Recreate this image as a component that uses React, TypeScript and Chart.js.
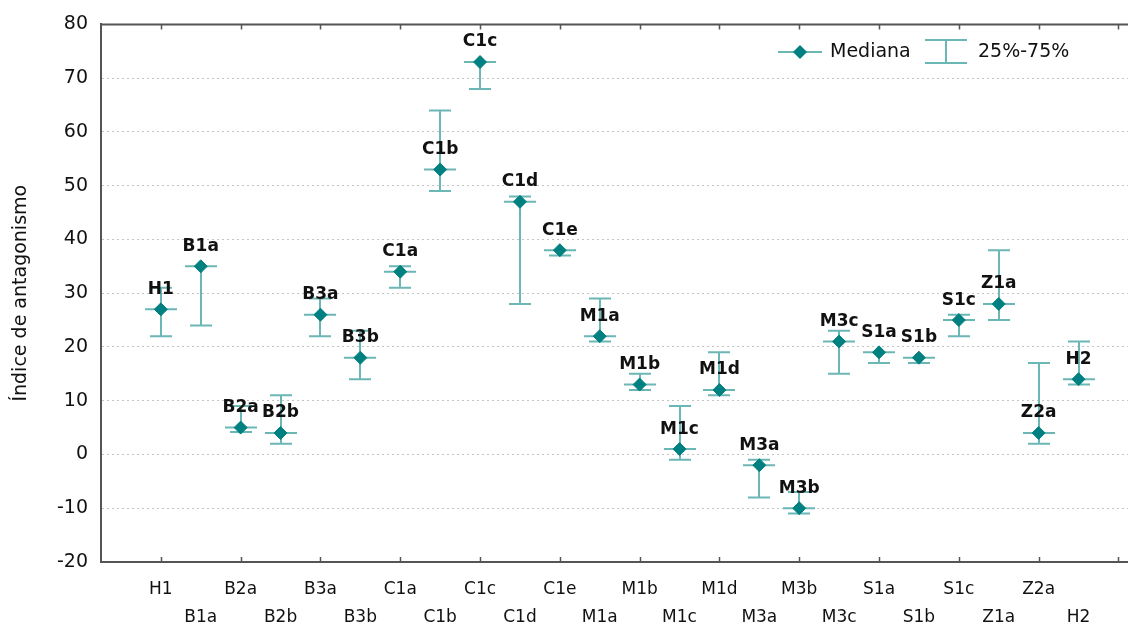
import React, { useEffect, useRef } from 'react';
import { Chart, registerables } from 'chart.js';

Chart.register(...registerables);

// Sample groups, in plotting order
const groups = [
  'H1', 'B1a', 'B2a', 'B2b', 'B3a', 'B3b', 'C1a', 'C1b', 'C1c', 'C1d', 'C1e', 'M1a',
  'M1b', 'M1c', 'M1d', 'M3a', 'M3b', 'M3c', 'S1a', 'S1b', 'S1c', 'Z1a', 'Z2a', 'H2',
];
// Median antagonism index per group
const medians = [27, 35, 5, 4, 26, 18, 34, 53, 73, 47, 38, 22, 13, 1, 12, -2, -10, 21, 19, 18, 25, 28, 4, 14];
// 25th percentile
const q1 = [22, 24, 4.2, 2, 22, 14, 31, 49, 68, 28, 37, 21, 12, -1, 11, -8, -11, 15, 17, 17, 22, 25, 2, 13];
// 75th percentile
const q3 = [31, 35, 9, 11, 29, 23, 35, 64, 73, 48, 38, 29, 15, 9, 19, -1, -7, 23, 19, 18, 26, 38, 17, 21];
// Value axis ticks
const yTicks = [-20, -10, 0, 10, 20, 30, 40, 50, 60, 70, 80];

const FONT = "'DejaVu Sans', sans-serif";
const TEAL = '#008080';
const WHISKER = '#6bb7b5';
const AXIS = '#555555';
const TEXT = '#111111';

const quartilePlugin = {
  id: 'quartileBars',
  beforeDatasetsDraw(chart: any) {
    const { ctx, scales } = chart;
    const x = scales.x;
    const y = scales.y;
    ctx.save();
    ctx.strokeStyle = WHISKER;
    ctx.lineWidth = 2;
    groups.forEach((_, i) => {
      const px = Math.round(x.getPixelForValue(i));
      const yHi = y.getPixelForValue(q3[i]);
      const yLo = y.getPixelForValue(q1[i]);
      const yMed = y.getPixelForValue(medians[i]);
      ctx.beginPath();
      ctx.moveTo(px, yHi);
      ctx.lineTo(px, yLo);
      ctx.moveTo(px - 11, yHi);
      ctx.lineTo(px + 11, yHi);
      ctx.moveTo(px - 11, yLo);
      ctx.lineTo(px + 11, yLo);
      ctx.moveTo(px - 16, yMed);
      ctx.lineTo(px + 16, yMed);
      ctx.stroke();
    });
    ctx.restore();
  },
  afterDatasetsDraw(chart: any) {
    const { ctx, scales } = chart;
    const x = scales.x;
    const y = scales.y;
    ctx.save();
    ctx.fillStyle = TEXT;
    ctx.font = `bold 17px ${FONT}`;
    ctx.textAlign = 'center';
    ctx.textBaseline = 'middle';
    groups.forEach((name, i) => {
      const px = x.getPixelForValue(i);
      const yMed = y.getPixelForValue(medians[i]);
      ctx.fillText(name, px, yMed - 20);
    });
    ctx.restore();
  },
  afterDraw(chart: any) {
    const { ctx, chartArea, scales } = chart;
    const x = scales.x;
    ctx.save();
    // top frame line
    ctx.strokeStyle = AXIS;
    ctx.lineWidth = 2;
    ctx.beginPath();
    ctx.moveTo(chartArea.left, chartArea.top);
    ctx.lineTo(chartArea.right, chartArea.top);
    ctx.stroke();
    // inward tick marks at every other group
    ctx.lineWidth = 1.5;
    ctx.beginPath();
    for (let i = 0; i <= groups.length; i += 2) {
      const px = Math.round(x.getPixelForValue(i)) + 0.5;
      if (px > chartArea.right) break;
      ctx.moveTo(px, chartArea.top);
      ctx.lineTo(px, chartArea.top + 5);
      ctx.moveTo(px, chartArea.bottom);
      ctx.lineTo(px, chartArea.bottom - 5);
    }
    ctx.stroke();

    // legend
    const ly = 52;
    ctx.strokeStyle = WHISKER;
    ctx.lineWidth = 2;
    ctx.beginPath();
    ctx.moveTo(778, ly);
    ctx.lineTo(822, ly);
    ctx.stroke();
    ctx.fillStyle = TEAL;
    ctx.beginPath();
    ctx.moveTo(800 - 7, ly);
    ctx.lineTo(800, ly - 7);
    ctx.lineTo(800 + 7, ly);
    ctx.lineTo(800, ly + 7);
    ctx.closePath();
    ctx.fill();

    ctx.beginPath();
    ctx.moveTo(946, 40);
    ctx.lineTo(946, 63);
    ctx.moveTo(925, 40);
    ctx.lineTo(967, 40);
    ctx.moveTo(925, 63);
    ctx.lineTo(967, 63);
    ctx.stroke();

    ctx.fillStyle = TEXT;
    ctx.font = `19px ${FONT}`;
    ctx.textAlign = 'left';
    ctx.textBaseline = 'middle';
    ctx.fillText('Mediana', 830, ly);
    ctx.fillText('25%-75%', 978, ly);
    ctx.restore();
  },
};

export default function App() {
  const canvasRef = useRef<HTMLCanvasElement | null>(null);

  useEffect(() => {
    document.body.style.margin = '0';
    const canvas = canvasRef.current;
    if (!canvas) return;
    const chart = new Chart(canvas, {
      type: 'scatter',
      data: {
        datasets: [
          {
            label: 'Mediana',
            data: medians.map((m, i) => ({ x: i, y: m })),
            pointStyle: 'rectRot',
            pointRadius: 6.5,
            pointHoverRadius: 6.5,
            borderWidth: 1,
            backgroundColor: TEAL,
            borderColor: TEAL,
            showLine: false,
          },
        ],
      },
      options: {
        responsive: false,
        animation: false,
        devicePixelRatio: 1,
        layout: { autoPadding: false, padding: { top: 24, left: 0, right: 0, bottom: 0 } },
        plugins: {
          legend: { display: false },
          tooltip: { enabled: false },
        },
        scales: {
          x: {
            type: 'linear',
            min: -1.5,
            max: 24.24,
            afterBuildTicks: (s: any) => {
              s.ticks = groups.map((_, i) => ({ value: i }));
            },
            afterFit: (s: any) => {
              s.height = 66;
              s.paddingLeft = 0;
              s.paddingRight = 0;
            },
            grid: { display: false, drawTicks: false },
            border: { display: true, color: AXIS, width: 2 },
            ticks: {
              autoSkip: false,
              maxRotation: 0,
              minRotation: 0,
              padding: 14,
              color: TEXT,
              font: { family: FONT, size: 17, lineHeight: 1.65 },
              callback: (_v: any, i: number) => (i % 2 === 0 ? groups[i] : ['', groups[i]]),
            },
          },
          y: {
            min: -20,
            max: 80,
            afterBuildTicks: (s: any) => {
              s.ticks = yTicks.map((v) => ({ value: v }));
            },
            afterFit: (s: any) => {
              s.width = 101;
            },
            grid: {
              drawTicks: false,
              lineWidth: 1,
              color: (c: any) =>
                c.tick && (c.tick.value === 80 || c.tick.value === -20) ? 'rgba(0,0,0,0)' : '#c4c4c4',
            },
            border: { display: true, color: AXIS, width: 2, dash: [2, 3] },
            ticks: {
              padding: 13,
              color: TEXT,
              font: { family: FONT, size: 19 },
            },
            title: {
              display: true,
              text: 'Índice de antagonismo',
              color: TEXT,
              font: { family: FONT, size: 19 },
              padding: { top: 10, bottom: 0 },
            },
          },
        },
      },
      plugins: [quartilePlugin],
    } as any);
    return () => chart.destroy();
  }, []);

  return (
    <div style={{ width: 1128, height: 628 }}>
      <canvas ref={canvasRef} width={1128} height={628} />
    </div>
  );
}
